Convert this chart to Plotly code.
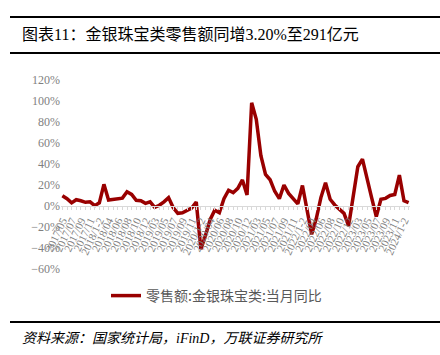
import plotly.graph_objects as go

# ---- data ----
categories = [
    "2017/05", "2017/06", "2017/07", "2017/08", "2017/09", "2017/10", "2017/11", "2017/12",
    "2018/1-2", "2018/03", "2018/04", "2018/05", "2018/06", "2018/07", "2018/08", "2018/09", "2018/10", "2018/11", "2018/12",
    "2019/1-2", "2019/03", "2019/04", "2019/05", "2019/06", "2019/07", "2019/08", "2019/09", "2019/10", "2019/11", "2019/12",
    "2020/1-2", "2020/03", "2020/04", "2020/05", "2020/06", "2020/07", "2020/08", "2020/09", "2020/10", "2020/11", "2020/12",
    "2021/1-2", "2021/03", "2021/04", "2021/05", "2021/06", "2021/07", "2021/08", "2021/09", "2021/10", "2021/11", "2021/12",
    "2022/1-2", "2022/03", "2022/04", "2022/05", "2022/06", "2022/07", "2022/08", "2022/09", "2022/10", "2022/11", "2022/12",
    "2023/1-2", "2023/03", "2023/04", "2023/05", "2023/06", "2023/07", "2023/08", "2023/09", "2023/10", "2023/11", "2023/12",
    "2024/1-2", "2024/03",
]
yoy_pct = [
    9.8, 7.0, 3.0, 6.0, 5.0, 3.5, 4.0, 0.3,
    3.0, 20.6, 5.7, 6.5, 7.0, 7.5, 13.6, 11.0, 5.5, 5.0, 2.5,
    4.0, -1.3, 0.7, 4.0, 8.0, -1.5, -7.0, -6.4, -4.5, -2.0, 3.8,
    -41.1, -28.0, -13.0, -4.0, -6.4, 7.0, 15.0, 12.7, 16.8, 24.8, 10.5,
    98.3, 82.5, 48.0, 30.0, 25.0, 14.0, 7.0, 20.0, 12.0, 7.5, 2.0,
    19.5, -5.0, -27.0, -12.0, 8.0, 22.2, 6.4, 1.0, -3.0, -7.0, -19.0,
    8.0, 37.4, 44.7, 25.0, 7.8, -10.0, 6.4, 7.3, 10.0, 11.0, 29.4,
    5.0, 3.2,
]
y_ticks = [-60, -40, -20, 0, 20, 40, 60, 80, 100, 120]
y_tick_labels = ["−60%", "−40%", "−20%", "0%", "20%", "40%", "60%", "80%", "100%", "120%"]
series_name = "零售额:金银珠宝类:当月同比"
title_text = "图表11：金银珠宝类零售额同增3.20%至291亿元"
source_text = "资料来源：国家统计局，iFinD，万联证券研究所"

W, H = 440, 355
L, R, T, B = 61, 30, 80, 86
PW, PH = W - L - R, H - T - B

def px(x):
    return (x - L) / PW

def py(y):
    return (H - B - y) / PH

tick_text = [c if i % 2 == 0 else "" for i, c in enumerate(categories)]

fig = go.Figure()
fig.add_trace(go.Scatter(
    x=categories, y=yoy_pct, mode="lines", name=series_name,
    line=dict(color="#990000", width=3.5),
))

serif_cjk = "Liberation Serif, Noto Sans CJK SC"

fig.update_layout(
    width=W, height=H,
    margin=dict(l=L, r=R, t=T, b=B, autoexpand=False),
    paper_bgcolor="white", plot_bgcolor="white",
    showlegend=True,
    legend=dict(
        orientation="h", x=px(106), y=py(296), xanchor="left", yanchor="middle",
        font=dict(family="Noto Sans CJK SC", size=14, color="#595959"),
        bgcolor="rgba(0,0,0,0)",
    ),
    xaxis=dict(
        type="category", range=[-0.3, len(categories) - 0.7],
        anchor="free", position=60 / 180, automargin=False,
        showgrid=False, zeroline=False,
        showline=True, linecolor="#d9d9d9", linewidth=1,
        tickmode="array", tickvals=categories, ticktext=tick_text,
        ticks="outside", ticklen=3, tickcolor="#d9d9d9",
        tickangle=-65,
        tickfont=dict(family="Liberation Serif", size=11, color="#7f7f7f"),
    ),
    yaxis=dict(
        range=[-60, 120], tickmode="array", tickvals=y_ticks, ticktext=y_tick_labels,
        automargin=False,
        showgrid=False, zeroline=False, showline=False,
        tickfont=dict(family="Liberation Serif", size=12, color="#7f7f7f"),
    ),
    shapes=[
        dict(type="line", xref="paper", yref="paper", x0=px(10), x1=px(440), y0=py(17), y1=py(17),
             line=dict(color="black", width=2)),
        dict(type="line", xref="paper", yref="paper", x0=px(10), x1=px(440), y0=py(53), y1=py(53),
             line=dict(color="black", width=2)),
        dict(type="line", xref="paper", yref="paper", x0=px(10), x1=px(440), y0=py(322), y1=py(322),
             line=dict(color="black", width=2)),
    ],
    annotations=[
        dict(text=title_text, xref="paper", yref="paper", x=px(20), y=py(35),
             xanchor="left", yanchor="middle", showarrow=False,
             font=dict(family=serif_cjk, size=16, color="black")),
        dict(text="<i>" + source_text + "</i>", xref="paper", yref="paper", x=px(20), y=py(338),
             xanchor="left", yanchor="middle", showarrow=False,
             font=dict(family=serif_cjk, size=14, color="black")),
    ],
)

fig.write_html("out.html", config={"displayModeBar": False},
               post_script="document.body.style.margin='0';")
